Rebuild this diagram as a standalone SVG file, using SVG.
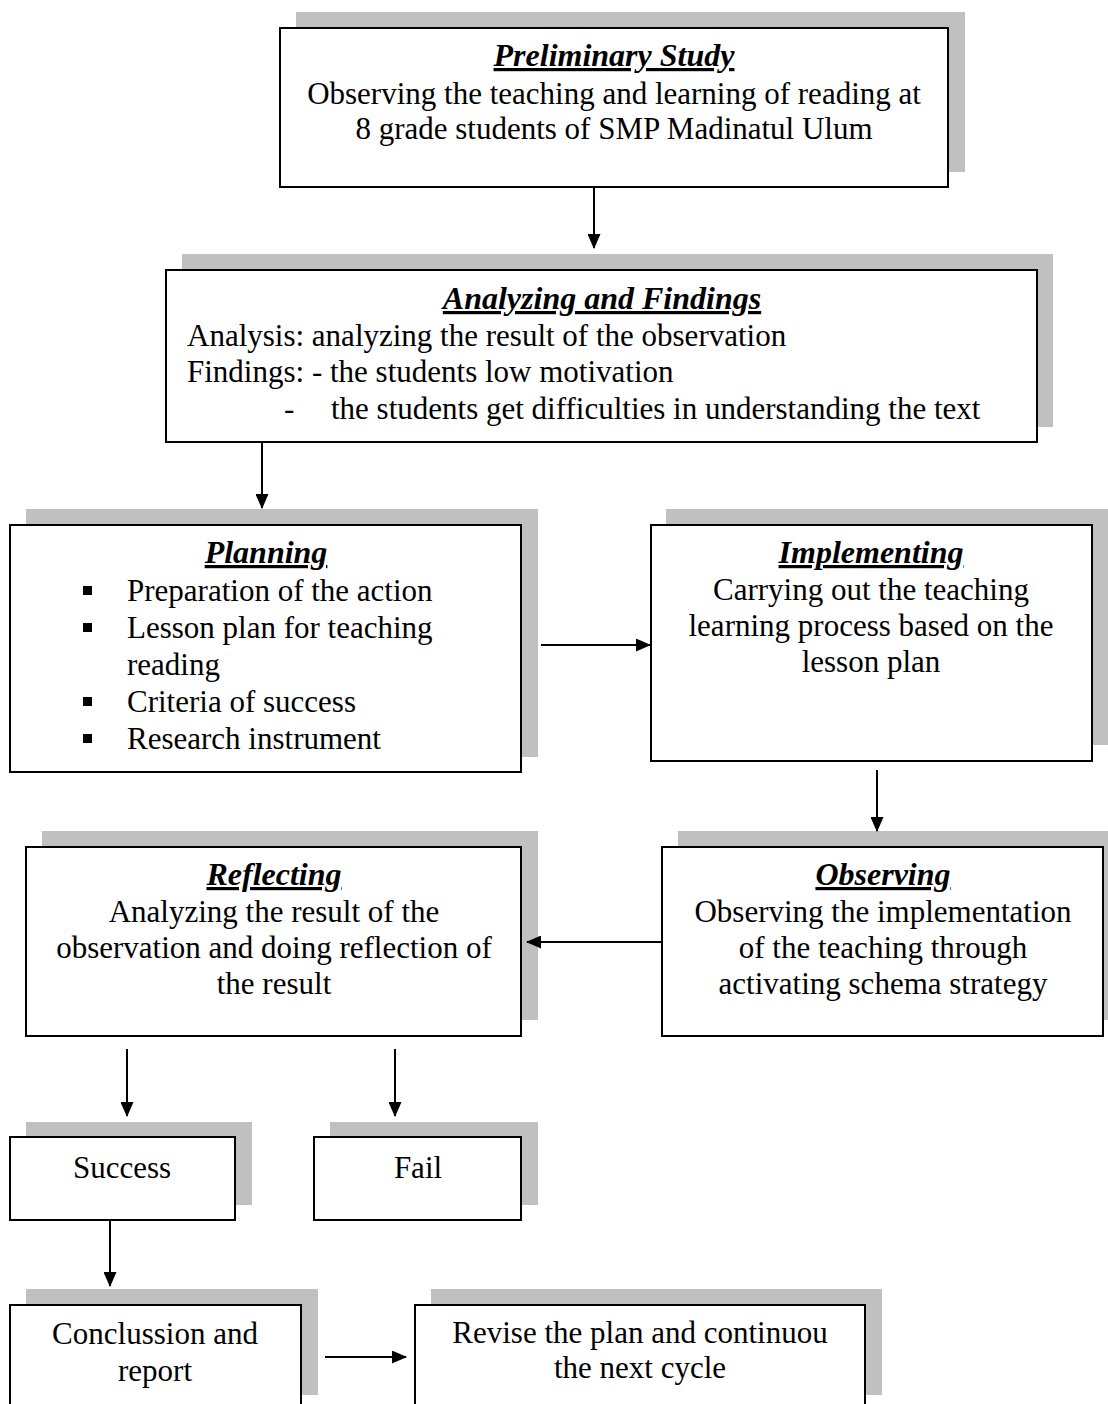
<svg xmlns="http://www.w3.org/2000/svg" width="1108" height="1404" viewBox="0 0 1108 1404">
<defs>
<style>
.sh{fill:#c0c0c0;stroke:none}
.bx{fill:#fff;stroke:#000;stroke-width:2}
.t{font-family:"Liberation Serif","Times New Roman",serif;font-size:31px;fill:#000}
.c{text-anchor:middle}
.h{font-weight:bold;font-style:italic;text-decoration:underline;font-size:32px}
.ln{stroke:#000;stroke-width:2;fill:none}
.bl{fill:#000}
</style>
<marker id="ah" viewBox="0 0 15 13" refX="14" refY="6.5" markerWidth="15" markerHeight="13" markerUnits="userSpaceOnUse" orient="auto">
<path d="M0,0 L15,6.5 L0,13 Z" fill="#000"/>
</marker>
</defs>
<rect width="1108" height="1404" fill="#fff"/>

<g id="preliminary">
<rect class="sh" x="296" y="12" width="669" height="160"/>
<rect class="bx" x="280" y="28" width="668" height="159"/>
<text class="t c h" x="614" y="66">Preliminary Study</text>
<text class="t c" x="614" y="104">Observing the teaching and learning of reading at</text>
<text class="t c" x="614" y="139">8 grade students of SMP Madinatul Ulum</text>
</g>

<g id="analyzing">
<rect class="sh" x="182" y="254" width="871" height="173"/>
<rect class="bx" x="166" y="270" width="871" height="172"/>
<text class="t c h" x="602" y="309">Analyzing and Findings</text>
<text class="t" x="187" y="346">Analysis: analyzing the result of the observation</text>
<text class="t" x="187" y="382">Findings: - the students low motivation</text>
<text class="t" x="284" y="419">-</text>
<text class="t" x="331" y="419">the students get difficulties in understanding the text</text>
</g>

<g id="planning">
<rect class="sh" x="26" y="509" width="512" height="248"/>
<rect class="bx" x="10" y="525" width="511" height="247"/>
<text class="t c h" x="266" y="563">Planning</text>
<rect class="bl" x="83" y="586" width="9" height="9"/>
<text class="t" x="127" y="601">Preparation of the action</text>
<rect class="bl" x="83" y="623" width="9" height="9"/>
<text class="t" x="127" y="638">Lesson plan for teaching</text>
<text class="t" x="127" y="675">reading</text>
<rect class="bl" x="83" y="697" width="9" height="9"/>
<text class="t" x="127" y="712">Criteria of success</text>
<rect class="bl" x="83" y="734" width="9" height="9"/>
<text class="t" x="127" y="749">Research instrument</text>
</g>

<g id="implementing">
<rect class="sh" x="666" y="509" width="442" height="236"/>
<rect class="bx" x="651" y="525" width="441" height="236"/>
<text class="t c h" x="871" y="563">Implementing</text>
<text class="t c" x="871" y="600">Carrying out the teaching</text>
<text class="t c" x="871" y="636">learning process based on the</text>
<text class="t c" x="871" y="672">lesson plan</text>
</g>

<g id="reflecting">
<rect class="sh" x="42" y="831" width="496" height="189"/>
<rect class="bx" x="26" y="847" width="495" height="189"/>
<text class="t c h" x="274" y="885">Reflecting</text>
<text class="t c" x="274" y="922">Analyzing the result of the</text>
<text class="t c" x="274" y="958">observation and doing reflection of</text>
<text class="t c" x="274" y="994">the result</text>
</g>

<g id="observing">
<rect class="sh" x="678" y="831" width="440" height="189"/>
<rect class="bx" x="662" y="847" width="441" height="189"/>
<text class="t c h" x="883" y="885">Observing</text>
<text class="t c" x="883" y="922">Observing the implementation</text>
<text class="t c" x="883" y="958">of the teaching through</text>
<text class="t c" x="883" y="994">activating schema strategy</text>
</g>

<g id="success">
<rect class="sh" x="26" y="1122" width="226" height="83"/>
<rect class="bx" x="10" y="1137" width="225" height="83"/>
<text class="t c" x="122" y="1178">Success</text>
</g>

<g id="fail">
<rect class="sh" x="330" y="1122" width="208" height="83"/>
<rect class="bx" x="314" y="1137" width="207" height="83"/>
<text class="t c" x="418" y="1178">Fail</text>
</g>

<g id="conclusion">
<rect class="sh" x="26" y="1289" width="292" height="106"/>
<rect class="bx" x="10" y="1305" width="291" height="110"/>
<text class="t c" x="155" y="1344">Conclussion and</text>
<text class="t c" x="155" y="1381">report</text>
</g>

<g id="revise">
<rect class="sh" x="431" y="1289" width="451" height="106"/>
<rect class="bx" x="415" y="1305" width="450" height="110"/>
<text class="t c" x="640" y="1343">Revise the plan and continuou</text>
<text class="t c" x="640" y="1378">the next cycle</text>
</g>

<g id="connectors">
<line class="ln" x1="594" y1="188" x2="594" y2="248" marker-end="url(#ah)"/>
<line class="ln" x1="262" y1="443" x2="262" y2="508" marker-end="url(#ah)"/>
<line class="ln" x1="541" y1="645" x2="650" y2="645" marker-end="url(#ah)"/>
<line class="ln" x1="877" y1="770" x2="877" y2="831" marker-end="url(#ah)"/>
<line class="ln" x1="662" y1="942" x2="527" y2="942" marker-end="url(#ah)"/>
<line class="ln" x1="127" y1="1049" x2="127" y2="1116" marker-end="url(#ah)"/>
<line class="ln" x1="395" y1="1049" x2="395" y2="1116" marker-end="url(#ah)"/>
<line class="ln" x1="110" y1="1221" x2="110" y2="1286" marker-end="url(#ah)"/>
<line class="ln" x1="325" y1="1357" x2="406" y2="1357" marker-end="url(#ah)"/>
</g>
</svg>
